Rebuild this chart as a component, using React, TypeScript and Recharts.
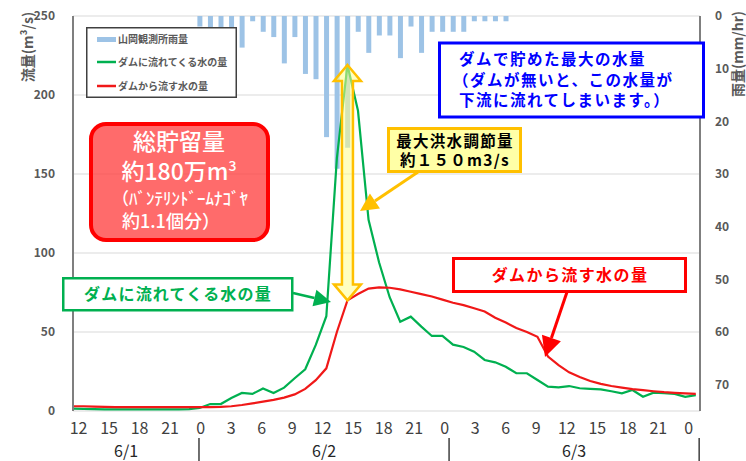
import React from "react";
import {
  ComposedChart,
  Bar,
  Line,
  XAxis,
  YAxis,
  CartesianGrid,
  Legend,
  ReferenceLine,
} from "recharts";

const FONT = "'Noto Sans CJK JP', 'Noto Sans', sans-serif";

const COLOR_RAIN = "#9DC3E6";
const COLOR_IN = "#00B050";
const COLOR_OUT = "#F01818";
const COLOR_FRAME = "#7F7F7F";

// 1時間ごと, 6/1 12:00 〜 6/3 23:00
const inflow = [
  1.5, 1.3, 1.2, 1, 1, 1, 1, 1, 1, 1, 1, 1.2,
  1.9, 4.4, 4.4, 8.2, 11.4, 10.8, 14.3, 11.4, 14.8, 20.7, 26.4, 41.8,
  60, 160, 219, 190, 121, 94, 72, 56.5, 59.7, 53.4, 47.5, 47.5,
  42, 40.5, 37.5, 32.3, 30.8, 28, 23.9, 23.9, 19.6, 15.4, 15, 15.8,
  14.4, 14, 13.7, 12.5, 11.2, 13.3, 9, 11.6, 11.3, 10.8, 9, 10.1,
];

const outflow = [
  3, 3, 2.8, 2.6, 2.5, 2.5, 2.5, 2.5, 2.5, 2.5, 2.5, 2.5,
  2.5, 2.5, 2.6, 3, 3.8, 4.8, 5.9, 7, 8.5, 10.5, 14, 19.5,
  27, 50, 70, 74, 77.5, 78.3, 78, 77, 75.5, 74, 72.5, 70.5,
  68.5, 67, 65, 63, 59, 56, 52.5, 50, 47, 34.5, 29, 24.5,
  21.5, 19, 17.2, 15.8, 14.8, 13.9, 13.2, 12.5, 11.9, 11.5, 11.1, 10.8,
];

// 山岡観測所雨量 (mm/hr), 6/2 0:00 から
const rainStartHour = 12;
const rainfall = [
  2, 2.5, 2.5, 2.5, 6, 1, 3, 4, 9, 4, 11, 12,
  23, 29, 25, 3, 7, 3.7, 3.7, 8, 2, 7, 3, 3,
  3, 3, 1, 1, 1, 1,
];

const hourTickLabels = [
  "12", "15", "18", "21", "0", "3", "6", "9", "12", "15", "18",
  "21", "0", "3", "6", "9", "12", "15", "18", "21", "0",
];
const dayLabels = ["6/1", "6/2", "6/3"];
const dayLabelHours = [5, 24, 48];
const dayBoundaryHours = [12, 36, 60];
const flowTicks = [0, 50, 100, 150, 200, 250];
const rainTicks = [0, 10, 20, 30, 40, 50, 60, 70];

const seriesNames = {
  rain: "山岡観測所雨量",
  inflow: "ダムに流れてくる水の量",
  outflow: "ダムから流す水の量",
};

const rows = inflow.map((v, h) => {
  const r = h - rainStartHour;
  return {
    h,
    inflow: v,
    outflow: outflow[h],
    rain: r >= 0 && r < rainfall.length ? rainfall[r] : null,
  };
});

const peakIdx = inflow.indexOf(Math.max(...inflow));

const mainDomain = [0, 59.4];
const gridTicks = hourTickLabels.slice(0, 20).map((_, i) => i * 3);
const hourTicks = hourTickLabels.map((_, i) => i * 3);
const hourDomain = [-0.55, 61.1];
const hourFormat = (v: number) => hourTickLabels[Math.round(v / 3)];

// 日付ラベル用の横位置 (6/1 12:00 起点の時間 -> px)
const dayX = (h: number) => 73 + (h + 0.09) * (627 / 60.17);

function LegendBox() {
  const txt = { fontSize: 10, fontWeight: 700, fill: "#595959", fontFamily: FONT };
  return (
    <svg width={151} height={71} style={{ display: "block" }}>
      <rect x={0.75} y={0.75} width={149.5} height={69.5} fill="#fff" stroke="#404040" strokeWidth={1.5} />
      <rect x={11} y={10} width={19} height={5} fill={COLOR_RAIN} />
      <text x={32} y={16} {...txt}>{seriesNames.rain}</text>
      <line x1={11} x2={30} y1={35} y2={35} stroke={COLOR_IN} strokeWidth={2.5} />
      <text x={32} y={39} {...txt}>{seriesNames.inflow}</text>
      <line x1={11} x2={30} y1={59} y2={59} stroke={COLOR_OUT} strokeWidth={2.5} />
      <text x={32} y={63} {...txt}>{seriesNames.outflow}</text>
    </svg>
  );
}

function DoubleArrow(props: any) {
  const { x1, y1, y2 } = props;
  const x = x1;
  const top = Math.min(y1, y2);
  const bot = Math.max(y1, y2);
  const sw = 5.5;
  const hw = 13.5;
  const hl = 16;
  const pts = [
    [x, top], [x + hw, top + hl], [x + sw, top + hl], [x + sw, bot - hl],
    [x + hw, bot - hl], [x, bot], [x - hw, bot - hl], [x - sw, bot - hl],
    [x - sw, top + hl], [x - hw, top + hl],
  ];
  return (
    <polygon
      points={pts.map((p) => p.join(",")).join(" ")}
      fill="rgba(255,255,140,0.55)"
      stroke="#FFC000"
      strokeWidth={2.5}
    />
  );
}

function Arrow({ from, to, color, width, head }: any) {
  const [x1, y1] = from;
  const [x2, y2] = to;
  const len = Math.hypot(x2 - x1, y2 - y1);
  const ux = (x2 - x1) / len;
  const uy = (y2 - y1) / len;
  const bx = x2 - ux * head;
  const by = y2 - uy * head;
  const hw = head * 0.5;
  return (
    <g>
      <line x1={x1} y1={y1} x2={bx} y2={by} stroke={color} strokeWidth={width} />
      <polygon
        points={`${x2},${y2} ${bx - uy * hw},${by + ux * hw} ${bx + uy * hw},${by - ux * hw}`}
        fill={color}
      />
    </g>
  );
}

function Annotations() {
  const bold = { fontFamily: FONT, fontWeight: 700 };
  return (
    <svg
      width={746}
      height={461}
      style={{ position: "absolute", left: 0, top: 0, pointerEvents: "none" }}
    >
      {/* axis titles */}
      <text transform="translate(27,47) rotate(-90)" textAnchor="middle" dominantBaseline="central"
        fontSize={14} fill="#595959" {...bold}>流量(m³/s)</text>
      <text transform="translate(737,54) rotate(-90)" textAnchor="middle" dominantBaseline="central"
        fontSize={14} fill="#595959" {...bold}>雨量(mm/hr)</text>

      {/* 日付 */}
      {dayBoundaryHours.map((h) => (
        <line key={h} x1={dayX(h)} x2={dayX(h)} y1={438} y2={461} stroke="#404040" strokeWidth={1.5} />
      ))}
      {dayLabels.map((d, i) => (
        <text key={d} x={dayX(dayLabelHours[i])} y={457} textAnchor="middle" fontSize={16} fill="#262626" fontFamily={FONT}>
          {d}
        </text>
      ))}

      {/* 総貯留量 */}
      <rect x={91} y={124} width={177} height={116} rx={15} fill="rgba(255,70,70,0.8)" stroke="#FF0000" strokeWidth={4} />
      <g fill="#fff" fontFamily={FONT} fontWeight={500}>
        <text x={179} y={150} textAnchor="middle" fontSize={23}>総貯留量</text>
        <text x={179} y={180} textAnchor="middle" fontSize={23}>
          約180万m<tspan dy={-9} fontSize={14}>3</tspan>
        </text>
        <text x={112} y={205} fontSize={17}>（ﾊﾞﾝﾃﾘﾝﾄﾞｰﾑﾅｺﾞﾔ</text>
        <text x={122} y={228} fontSize={18}>約1.1個分）</text>
      </g>

      {/* blue note */}
      <rect x={439.5} y={43} width={264} height={74} fill="#fff" stroke="#0000FF" strokeWidth={3} />
      <g fill="#0000FF" fontSize={15.5} style={{ letterSpacing: 1.5 }} {...bold}>
        <text x={459} y={65}>ダムで貯めた最大の水量</text>
        <text x={453} y={86}>（ダムが無いと、この水量が</text>
        <text x={459} y={106}>下流に流れてしまいます。）</text>
      </g>

      {/* 最大洪水調節量 */}
      <Arrow from={[418, 172]} to={[360, 211]} color="#FFC000" width={3} head={18} />
      <rect x={388.5} y={128.5} width={132} height={43} fill="#FFFFA6" stroke="#FFC000" strokeWidth={3} />
      <g fill="#000" fontSize={15.5} style={{ letterSpacing: 1.3 }} {...bold}>
        <text x={455} y={147} textAnchor="middle">最大洪水調節量</text>
        <text x={455} y={166} textAnchor="middle">約１５０m3/s</text>
      </g>

      {/* inflow label */}
      <rect x={63.25} y={278.25} width={229} height={32} fill="#fff" stroke={COLOR_IN} strokeWidth={2.5} />
      <text x={178} y={300} textAnchor="middle" fill={COLOR_IN} fontSize={16} style={{ letterSpacing: 1.2 }} {...bold}>
        ダムに流れてくる水の量
      </text>
      <Arrow from={[293, 293]} to={[331, 302]} color={COLOR_IN} width={2.5} head={17} />

      {/* outflow label */}
      <rect x={453.5} y={258.5} width={232} height={33} fill="#fff" stroke="#FF0000" strokeWidth={3} />
      <text x={570} y={281} textAnchor="middle" fill="#FF0000" fontSize={16} style={{ letterSpacing: 1.4 }} {...bold}>
        ダムから流す水の量
      </text>
      <Arrow from={[567, 292]} to={[545, 357]} color="#FF0000" width={3} head={20} />
    </svg>
  );
}

export default function App() {
  return (
    <div style={{ position: "absolute", left: 0, top: 0, width: 746, height: 461, background: "#fff", fontFamily: FONT }}>
      <ComposedChart width={746} height={461} data={rows} margin={{ top: 16, right: 0, bottom: 0, left: 0 }}>
        <CartesianGrid xAxisId="main" yAxisId="flow" stroke="#D9D9D9" strokeWidth={1} />
        <XAxis
          xAxisId="main"
          dataKey="h"
          type="number"
          domain={mainDomain}
          ticks={gridTicks}
          height={0}
          tick={false}
          tickLine={false}
          axisLine={{ stroke: COLOR_FRAME, strokeWidth: 2 }}
        />
        <XAxis
          xAxisId="top"
          orientation="top"
          dataKey="h"
          type="number"
          domain={mainDomain}
          height={0}
          tick={false}
          tickLine={false}
          axisLine={{ stroke: COLOR_FRAME, strokeWidth: 1.5 }}
        />
        <XAxis
          xAxisId="hours"
          dataKey="h"
          type="number"
          domain={hourDomain}
          ticks={hourTicks}
          tickFormatter={hourFormat}
          interval={0}
          height={50}
          axisLine={false}
          tickLine={false}
          tickSize={6}
          tickMargin={6}
          tick={{ fontSize: 16, fill: "#404040" }}
        />
        <YAxis
          yAxisId="flow"
          domain={[0, 250]}
          ticks={flowTicks}
          width={73}
          tickLine={false}
          tickMargin={12}
          axisLine={{ stroke: COLOR_FRAME, strokeWidth: 2 }}
          tick={{ fontSize: 12, fontWeight: 700, fill: "#595959" }}
        />
        <YAxis
          yAxisId="rain"
          orientation="right"
          domain={[0, 75]}
          reversed
          ticks={rainTicks}
          width={46}
          tickLine={false}
          tickMargin={9}
          axisLine={{ stroke: COLOR_FRAME, strokeWidth: 2 }}
          tick={{ fontSize: 12, fontWeight: 700, fill: "#595959" }}
        />
        <Legend
          layout="horizontal"
          verticalAlign="middle"
          align="center"
          wrapperStyle={{ left: 86, top: 27, width: 151, height: 71 }}
          content={() => <LegendBox />}
        />
        <Bar
          xAxisId="main"
          yAxisId="rain"
          dataKey="rain"
          name={seriesNames.rain}
          fill={COLOR_RAIN}
          barSize={5}
          isAnimationActive={false}
        />
        <Line
          xAxisId="main"
          yAxisId="flow"
          type="linear"
          dataKey="inflow"
          name={seriesNames.inflow}
          stroke={COLOR_IN}
          strokeWidth={2.2}
          dot={false}
          isAnimationActive={false}
        />
        <Line
          xAxisId="main"
          yAxisId="flow"
          type="linear"
          dataKey="outflow"
          name={seriesNames.outflow}
          stroke={COLOR_OUT}
          strokeWidth={2.2}
          dot={false}
          isAnimationActive={false}
        />
        <ReferenceLine
          xAxisId="main"
          yAxisId="flow"
          segment={[
            { x: peakIdx, y: outflow[peakIdx] },
            { x: peakIdx, y: inflow[peakIdx] },
          ]}
          shape={<DoubleArrow />}
        />
      </ComposedChart>
      <Annotations />
    </div>
  );
}
